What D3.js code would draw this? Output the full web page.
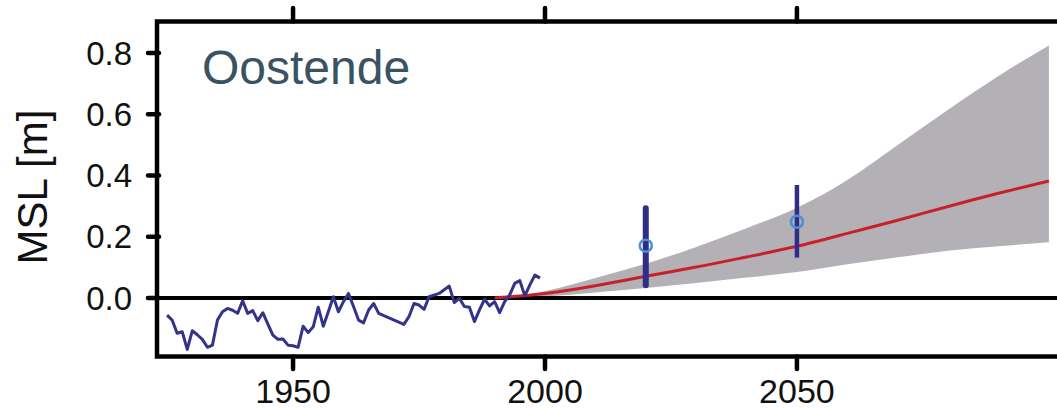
<!DOCTYPE html>
<html>
<head>
<meta charset="utf-8">
<script src="https://d3js.org/d3.v7.min.js"></script>
<style>
  body { margin: 0; background: #fff; }
  svg { display: block; font-family: "Liberation Sans", Arial, sans-serif; }
</style>
</head>
<body>
<div id="chart"></div>
<script>
//===============================
//  Data
//===============================

// observed annual mean sea level (m)
var obsYears = [1925, 1926, 1927, 1928, 1929, 1930, 1931, 1932, 1933, 1934,
  1935, 1936, 1937, 1938, 1939, 1940, 1941, 1942, 1943, 1944,
  1945, 1946, 1947, 1948, 1949, 1950, 1951, 1952, 1953, 1954,
  1955, 1956, 1957, 1958, 1959, 1960, 1961, 1962, 1963, 1964,
  1965, 1966, 1967, 1972, 1973, 1974, 1975, 1976, 1977, 1979,
  1981, 1982, 1983, 1984, 1985, 1986, 1987, 1988, 1989, 1990,
  1991, 1992, 1993, 1994, 1995, 1996, 1997, 1998, 1999];
var obsValues = [-0.056, -0.072, -0.115, -0.110, -0.168, -0.107, -0.120, -0.135, -0.161, -0.154,
  -0.072, -0.045, -0.034, -0.040, -0.050, -0.009, -0.050, -0.041, -0.074, -0.048,
  -0.085, -0.121, -0.135, -0.134, -0.154, -0.156, -0.161, -0.092, -0.113, -0.094,
  -0.030, -0.092, -0.045, 0.004, -0.045, -0.012, 0.015, -0.028, -0.072, -0.081,
  -0.039, -0.018, -0.050, -0.086, -0.061, -0.018, -0.023, -0.037, 0.004, 0.015,
  0.039, -0.015, -0.001, -0.028, -0.030, -0.077, -0.039, -0.004, -0.026, -0.012,
  -0.048, -0.012, 0.010, 0.048, 0.057, 0.007, 0.043, 0.075, 0.065];

// projection: central estimate and range
var projYears = [1990, 2000, 2010, 2020, 2030, 2040, 2050, 2060, 2070, 2080, 2090, 2100];
var projMid   = [0, 0.015, 0.040, 0.071, 0.101, 0.134, 0.169, 0.211, 0.254, 0.299, 0.342, 0.382];
var projLow   = [0, 0.005, 0.018, 0.033, 0.049, 0.067, 0.085, 0.110, 0.133, 0.154, 0.169, 0.182];
var projHigh  = [0, 0.022, 0.065, 0.112, 0.167, 0.228, 0.295, 0.385, 0.500, 0.615, 0.725, 0.825];

// other estimates with error bars
var estYears = [2020, 2050];
var estValues = [0.171, 0.249];
var estLow = [0.042, 0.132];
var estHigh = [0.293, 0.369];

// ticks
var xTicks = [1950, 2000, 2050];
var yTicks = [0.0, 0.2, 0.4, 0.6, 0.8];

//===============================
//  Chart area
//===============================

var svgWidth = 1057;
var svgHeight = 410;

var svg = d3.select("#chart")
  .append("svg")
  .attr("width", svgWidth)
  .attr("height", svgHeight);

// plot frame (right edge runs past the picture)
var frame = { left: 157, top: 21.5, bottom: 356.5, right: 1064 };

var xScale = d3.scaleLinear()
  .domain([1923, 2103])
  .range([frame.left, frame.right]);

var yScale = d3.scaleLinear()
  .domain([-0.191, 0.903])
  .range([frame.bottom, frame.top]);

//===============================
//  Projection band and line
//===============================

var proj = projYears.map((yr, i) => ({ year: yr, mid: projMid[i], low: projLow[i], high: projHigh[i] }));

var area = d3.area()
  .x(d => xScale(d.year))
  .y0(d => yScale(d.low))
  .y1(d => yScale(d.high))
  .curve(d3.curveNatural);

svg.append("path")
  .datum(proj)
  .attr("d", area)
  .attr("fill", "#b3b1b5");

// zero line
svg.append("line")
  .attr("x1", frame.left - 9)
  .attr("x2", frame.right)
  .attr("y1", yScale(0))
  .attr("y2", yScale(0))
  .attr("stroke", "#000")
  .attr("stroke-width", 4)
  .attr("stroke-linecap", "round");

svg.append("path")
  .datum(proj)
  .attr("d", d3.line().x(d => xScale(d.year)).y(d => yScale(d.mid)).curve(d3.curveNatural))
  .attr("fill", "none")
  .attr("stroke", "#c8202a")
  .attr("stroke-width", 3);

//===============================
//  Observations
//===============================

var obs = obsYears.map((yr, i) => ({ year: yr, value: obsValues[i] }));

svg.append("path")
  .datum(obs)
  .attr("d", d3.line().x(d => xScale(d.year)).y(d => yScale(d.value)))
  .attr("fill", "none")
  .attr("stroke", "#34338a")
  .attr("stroke-width", 3)
  .attr("stroke-linejoin", "round");

//===============================
//  Error bars
//===============================

var est = estYears.map((yr, i) => ({ year: yr, value: estValues[i], low: estLow[i], high: estHigh[i] }));

svg.selectAll(".ebar")
  .data(est)
  .enter()
  .append("line")
  .classed("ebar", true)
  .attr("x1", d => xScale(d.year))
  .attr("x2", d => xScale(d.year))
  .attr("y1", d => yScale(d.low))
  .attr("y2", d => yScale(d.high))
  .attr("stroke", "#2e2d88")
  .attr("stroke-width", (d, i) => i === 0 ? 6 : 4.5)
  .attr("stroke-linecap", (d, i) => i === 0 ? "round" : "butt");

svg.selectAll(".est")
  .data(est)
  .enter()
  .append("circle")
  .classed("est", true)
  .attr("cx", d => xScale(d.year))
  .attr("cy", d => yScale(d.value))
  .attr("r", 6)
  .attr("fill", "none")
  .attr("stroke", "#4a8fd6")
  .attr("stroke-width", 2.5);

//===============================
//  Frame, ticks, labels
//===============================

svg.append("rect")
  .attr("x", frame.left)
  .attr("y", frame.top)
  .attr("width", frame.right - frame.left)
  .attr("height", frame.bottom - frame.top)
  .attr("fill", "none")
  .attr("stroke", "#000")
  .attr("stroke-width", 4.5);

// x ticks on top and bottom
svg.selectAll(".xtickTop")
  .data(xTicks)
  .enter()
  .append("line")
  .attr("x1", d => xScale(d))
  .attr("x2", d => xScale(d))
  .attr("y1", 8)
  .attr("y2", frame.top)
  .attr("stroke", "#000")
  .attr("stroke-width", 4.5)
  .attr("stroke-linecap", "round");

svg.selectAll(".xtickBottom")
  .data(xTicks)
  .enter()
  .append("line")
  .attr("x1", d => xScale(d))
  .attr("x2", d => xScale(d))
  .attr("y1", frame.bottom)
  .attr("y2", 369)
  .attr("stroke", "#000")
  .attr("stroke-width", 4.5)
  .attr("stroke-linecap", "round");

svg.selectAll(".xlabel")
  .data(xTicks)
  .enter()
  .append("text")
  .attr("x", d => xScale(d))
  .attr("y", 403)
  .attr("text-anchor", "middle")
  .attr("font-size", "34px")
  .attr("fill", "#111")
  .text(d => d);

// y ticks
svg.selectAll(".ytick")
  .data(yTicks)
  .enter()
  .append("line")
  .attr("x1", frame.left - 9)
  .attr("x2", frame.left + 2)
  .attr("y1", d => yScale(d))
  .attr("y2", d => yScale(d))
  .attr("stroke", "#000")
  .attr("stroke-width", 4.5)
  .attr("stroke-linecap", "round");

svg.selectAll(".ylabel")
  .data(yTicks)
  .enter()
  .append("text")
  .attr("x", 132)
  .attr("y", d => yScale(d) + 11.5)
  .attr("text-anchor", "end")
  .attr("font-size", "33px")
  .attr("fill", "#111")
  .text(d => d.toFixed(1));

// y axis title
svg.append("text")
  .attr("transform", "translate(47, 187) rotate(-90)")
  .attr("text-anchor", "middle")
  .attr("font-size", "42px")
  .attr("fill", "#111")
  .text("MSL [m]");

// station name
svg.append("text")
  .attr("x", 202)
  .attr("y", 84)
  .attr("font-size", "48px")
  .attr("fill", "#385463")
  .text("Oostende");
</script>
</body>
</html>
